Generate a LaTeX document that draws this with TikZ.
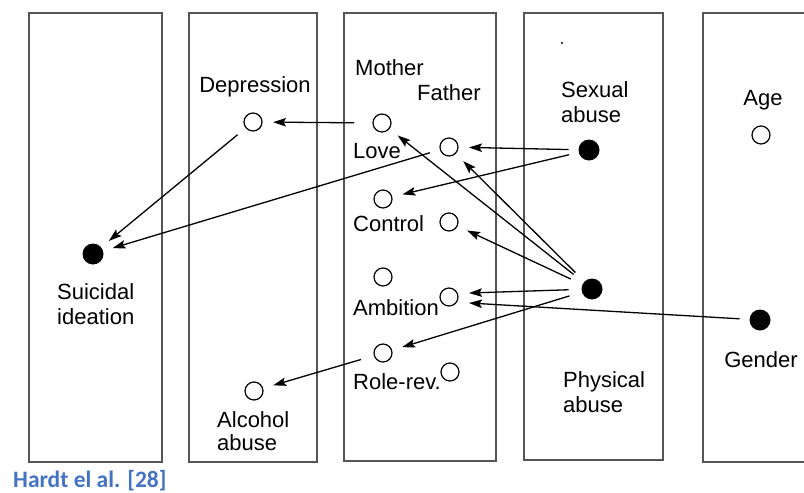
\documentclass[tikz,border=0pt]{standalone}
\usepackage{fontspec}
\setmainfont{Liberation Sans}
\newfontfamily\titlefont{Carlito}
\usetikzlibrary{arrows.meta}
\definecolor{boxgray}{RGB}{85,85,85}
\definecolor{titleblue}{RGB}{68,114,196}
\begin{document}
\begin{tikzpicture}[x=1pt,y=-1pt,
  panel/.style={draw=boxgray,line width=1.5pt},
  oc/.style={circle,draw,line width=1.2pt,minimum size=18pt,inner sep=0pt,outer sep=11pt},
  fc/.style={circle,fill,minimum size=21pt,inner sep=0pt,outer sep=10pt},
  lbl/.style={font=\fontsize{22}{25}\selectfont,inner sep=0pt,align=left},
  arr/.style={-{Stealth[length=13pt,width=8.5pt,inset=2.5pt]},line width=1.3pt},
]
\useasboundingbox (0,0) rectangle (804,493);
\fill[white] (0,0) rectangle (804,493);
% panels
\draw[panel] (29,13) rectangle (162,462);
\draw[panel] (189,13) rectangle (317,462);
\draw[panel] (344,13) rectangle (496,461);
\draw[panel] (524,13) rectangle (663,460);
\draw[panel] (812,13) -- (703,13) -- (703,462) -- (812,462);
% nodes
\node[oc] (dep) at (253,122) {};
\node[fc] (suic) at (93,254) {};
\node[oc] (alc) at (254,391) {};
\node[oc] (mlove) at (382,123) {};
\node[oc] (flove) at (449,147) {};
\node[oc] (mctrl) at (383,199) {};
\node[oc] (fctrl) at (449,222) {};
\node[oc] (mamb) at (383,277) {};
\node[oc] (famb) at (449,297) {};
\node[oc] (mrole) at (383,353) {};
\node[oc] (frole) at (450,372) {};
\node[fc] (sex) at (589,150) {};
\node[fc] (phys) at (592,289) {};
\node[oc] (age) at (761,135) {};
\node[fc] (gender) at (760,320) {};
\fill (562,43) circle (1.1pt);
% labels
\node[lbl,anchor=base] (tdep) at (255,92) {Depression};
\node[lbl,anchor=base west] (tmother) at (355,75.5) {Mother};
\node[lbl,anchor=base west] (tfather) at (417,100.5) {Father};
\node[lbl,anchor=base west] (tlove) at (353,158) {Love};
\node[lbl,anchor=base west] (tctrl) at (353,231) {Control};
\node[lbl,anchor=base west] (tamb) at (353,315.5) {Ambition};
\node[lbl,anchor=base west] (trole) at (353,389.5) {Role-rev.};
\node[lbl,anchor=base west] (tsex) at (561,122.5) {Sexual\\abuse};
\node[lbl,anchor=base] (tage) at (763,105.5) {Age};
\node[lbl,anchor=base west] (tsuic) at (57,324.5) {Suicidal\\ideation};
\node[lbl,anchor=base west,font=\fontsize{22}{23}\selectfont] (talc) at (217,450.5) {Alcohol\\abuse};
\node[lbl,anchor=base west] (tphys) at (563,412.5) {Physical\\abuse};
\node[lbl,anchor=base] (tgender) at (761,367.5) {Gender};
\node[anchor=base west,inner sep=0pt,text=titleblue,font=\titlefont\bfseries\fontsize{23.5}{26}\selectfont] (title) at (13,487.5) {Hardt el al. [28]};
% arrows
\draw[arr,shorten <=8pt] (mlove) -- (dep);
\draw[arr] (dep) -- (suic);
\draw[arr] (flove) -- (suic);
\draw[arr] (sex) -- (flove);
\draw[arr] (sex) -- (mctrl);
\draw[arr,shorten <=3pt] (phys) -- (mlove);
\draw[arr,shorten <=3pt] (phys) -- (flove);
\draw[arr,shorten <=3pt] (phys) -- (fctrl);
\draw[arr,shorten <=3pt] (phys) -- ([yshift=4pt]famb.east);
\draw[arr] (gender) -- ([yshift=-6pt]famb.east);
\draw[arr,shorten <=3pt] (phys) -- (mrole);
\draw[arr,shorten <=3pt] (mrole) -- (alc);
\end{tikzpicture}
\end{document}
